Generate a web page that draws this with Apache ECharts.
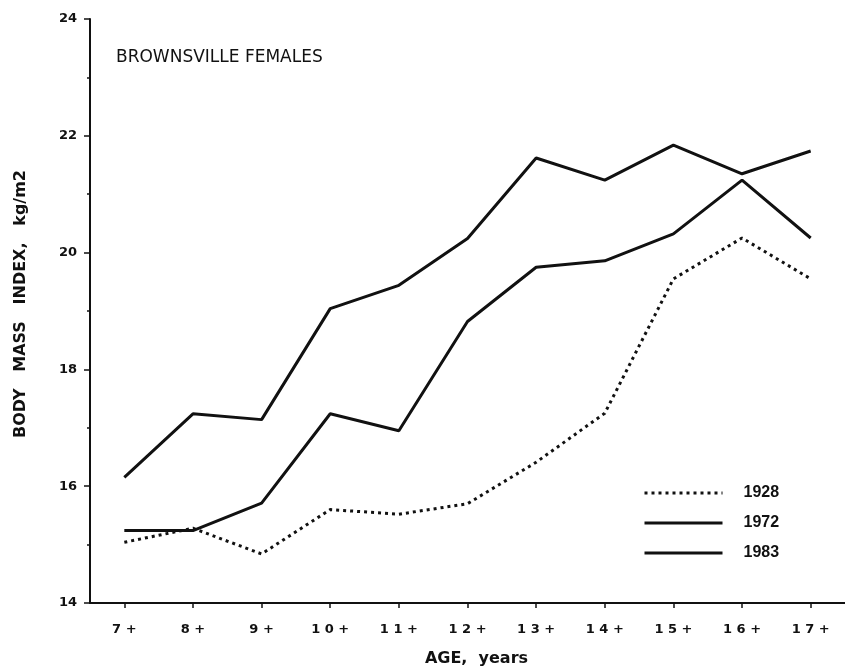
<!DOCTYPE html>
<html>
<head>
<meta charset="utf-8">
<script src="https://cdn.jsdelivr.net/npm/echarts@6/dist/echarts.min.js"></script>
<style>
html,body{margin:0;padding:0;background:#fff;}
#chart{width:845px;height:672px;}
</style>
</head>
<body>
<div id="chart"></div>
<script>
const ages = ['7+','8+','9+','10+','11+','12+','13+','14+','15+','16+','17+'];
const bmi1928 = [15.04, 15.28, 14.84, 15.6, 15.52, 15.7, 16.41, 17.25, 19.55, 20.25, 19.55];
const bmi1972 = [15.24, 15.24, 15.71, 17.24, 16.95, 18.82, 19.75, 19.86, 20.32, 21.24, 20.25];
const bmi1983 = [16.15, 17.24, 17.14, 19.04, 19.44, 20.24, 21.62, 21.24, 21.84, 21.35, 21.74];
const yTicks = {min: 14, max: 24, interval: 2};
const titleText = 'BROWNSVILLE FEMALES';
const xName = 'AGE,  years';
const yName = 'BODY   MASS   INDEX,   kg/m2';

const chart = echarts.init(document.getElementById('chart'), null, {renderer: 'canvas'});
const ink = '#111';
const boldFont = {fontFamily: 'DejaVu Sans', fontWeight: 'bold', color: ink};

function lineSeries(name, data, type) {
  return {
    name: name,
    type: 'line',
    data: data,
    symbol: 'none',
    lineStyle: {color: ink, width: 3, type: type},
    itemStyle: {color: ink},
    z: 3
  };
}

chart.setOption({
  animation: false,
  backgroundColor: '#fff',
  title: {
    text: titleText,
    left: 111, top: 44,
    textStyle: {fontFamily: 'DejaVu Sans', fontWeight: 'normal', fontSize: 17, color: ink}
  },
  grid: {left: 90, right: -8, top: 19, bottom: 69, containLabel: false},
  legend: {
    orient: 'vertical',
    left: 638, top: 480,
    itemWidth: 78, itemHeight: 14, itemGap: 14,
    itemStyle: {opacity: 0},
    lineStyle: {width: 3},
    textStyle: {fontFamily: 'Liberation Sans', fontWeight: 'bold', color: ink, fontSize: 16, padding: [0, 0, 0, 16]},
    data: ['1928', '1972', '1983'],
    selectedMode: false
  },
  xAxis: {
    type: 'category',
    data: ages,
    boundaryGap: true,
    name: xName,
    nameLocation: 'middle',
    nameGap: 48,
    nameTextStyle: Object.assign({fontSize: 16, padding: [0, 0, 0, 18]}, boldFont),
    axisLine: {show: true, lineStyle: {color: ink, width: 2}},
    axisTick: {show: true, alignWithLabel: true, length: 5, lineStyle: {color: ink, width: 1.5}},
    axisLabel: Object.assign({
      fontSize: 13, margin: 20,
      formatter: v => v.split('').join(' ')
    }, boldFont),
    splitLine: {show: false}
  },
  yAxis: {
    type: 'value',
    min: yTicks.min, max: yTicks.max, interval: yTicks.interval,
    name: yName,
    nameLocation: 'middle',
    nameGap: 61,
    nameRotate: 90,
    nameTextStyle: Object.assign({fontSize: 16, padding: [0, 0, 0, 14]}, boldFont),
    axisLine: {show: true, lineStyle: {color: ink, width: 2}},
    axisTick: {show: true, inside: false, length: 6, lineStyle: {color: ink, width: 1.5}},
    minorTick: {show: true, splitNumber: 2, length: 3, lineStyle: {color: ink, width: 1.5}},
    axisLabel: Object.assign({fontSize: 13, margin: 13}, boldFont),
    splitLine: {show: false}
  },
  series: [
    lineSeries('1928', bmi1928, [3, 4]),
    lineSeries('1972', bmi1972, 'solid'),
    lineSeries('1983', bmi1983, 'solid')
  ]
});
</script>
</body>
</html>
